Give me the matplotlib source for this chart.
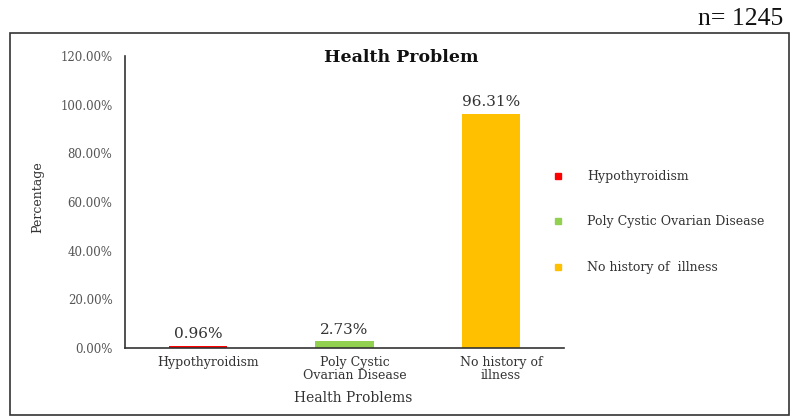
import matplotlib
matplotlib.use("Agg")
import matplotlib.pyplot as plt
from matplotlib.patches import Rectangle
from matplotlib.lines import Line2D
from matplotlib.ticker import FuncFormatter, MultipleLocator
from matplotlib.transforms import ScaledTranslation

# Data
categories = ["Hypothyroidism", "Poly Cystic Ovarian Disease", "No history of  illness"]
tick_labels = ["Hypothyroidism", "Poly Cystic\nOvarian Disease", "No history of\nillness"]
percentages = [0.96, 2.73, 96.31]
bar_colors = ["#FF0000", "#92D050", "#FFC000"]
sample_size = 1245

W, H = 792, 417
fig = plt.figure(figsize=(W / 100, H / 100), dpi=100)

serif = ["DejaVu Serif"]

# Chart frame
fig.patches.append(Rectangle((10 / W, 1 - 415 / H), (789 - 10) / W, (415 - 33) / H,
                             transform=fig.transFigure, fill=False,
                             edgecolor="#333333", linewidth=1.2))

ax = fig.add_axes([125 / W, 1 - 348 / H, (564 - 125) / W, (348 - 56) / H])

x = range(len(categories))
bars = ax.bar(x, percentages, width=0.4, color=bar_colors, zorder=2)
ax.bar_label(bars, labels=[f"{v:.2f}%" for v in percentages], padding=3,
             fontsize=11, family=serif, color="#333333")

ax.set_xlim(-0.5, len(categories) - 0.5)
ax.set_ylim(0, 120)
ax.yaxis.set_major_locator(MultipleLocator(20))
ax.yaxis.set_major_formatter(FuncFormatter(lambda v, p: f"{v:.2f}%"))
ax.set_xticks(list(x))
ax.set_xticklabels(tick_labels)

for s in ["top", "right"]:
    ax.spines[s].set_visible(False)
for s in ["left", "bottom"]:
    ax.spines[s].set_color("#333333")
    ax.spines[s].set_linewidth(1.2)

ax.tick_params(axis="y", length=0, pad=9, labelsize=8.5, labelcolor="#555555")
ax.tick_params(axis="x", length=0, pad=6, labelsize=9, labelcolor="#333333")
for lab in ax.get_xticklabels() + ax.get_yticklabels():
    lab.set_family(serif)
# category labels sit a little right of the bar centres
shift = ScaledTranslation(10 / 100, 0, fig.dpi_scale_trans)
for lab in ax.get_xticklabels():
    lab.set_linespacing(1.0)
    lab.set_transform(lab.get_transform() + shift)

# Axis titles
fig.text(38 / W, 1 - 197 / H, "Percentage", rotation=90, ha="center", va="center",
         fontsize=9, family=serif, color="#333333")
fig.text(353 / W, 1 - 398 / H, "Health Problems", ha="center", va="center",
         fontsize=10, family=serif, color="#333333")
fig.text(401 / W, 1 - 58 / H, "Health Problem", ha="center", va="center",
         fontsize=12.5, fontweight="bold", family=serif, color="#111111")
fig.text(783 / W, 1 - 25 / H, f"n= {sample_size}", ha="right", va="baseline",
         fontsize=18.5, family=["Liberation Serif"], color="#111111")

# Legend
handles = [Line2D([], [], linestyle="none", marker="s", markersize=5,
                  markerfacecolor=c, markeredgecolor=c) for c in bar_colors]
fig.legend(handles, categories, loc="center left",
           bbox_to_anchor=(552 / W, 1 - 222 / H), frameon=False,
           borderpad=0, borderaxespad=0, handlelength=1.0,
           handletextpad=1.8, labelspacing=2.6,
           prop={"family": serif, "size": 9}, labelcolor="#333333")

fig.savefig("out.png", dpi=100)
